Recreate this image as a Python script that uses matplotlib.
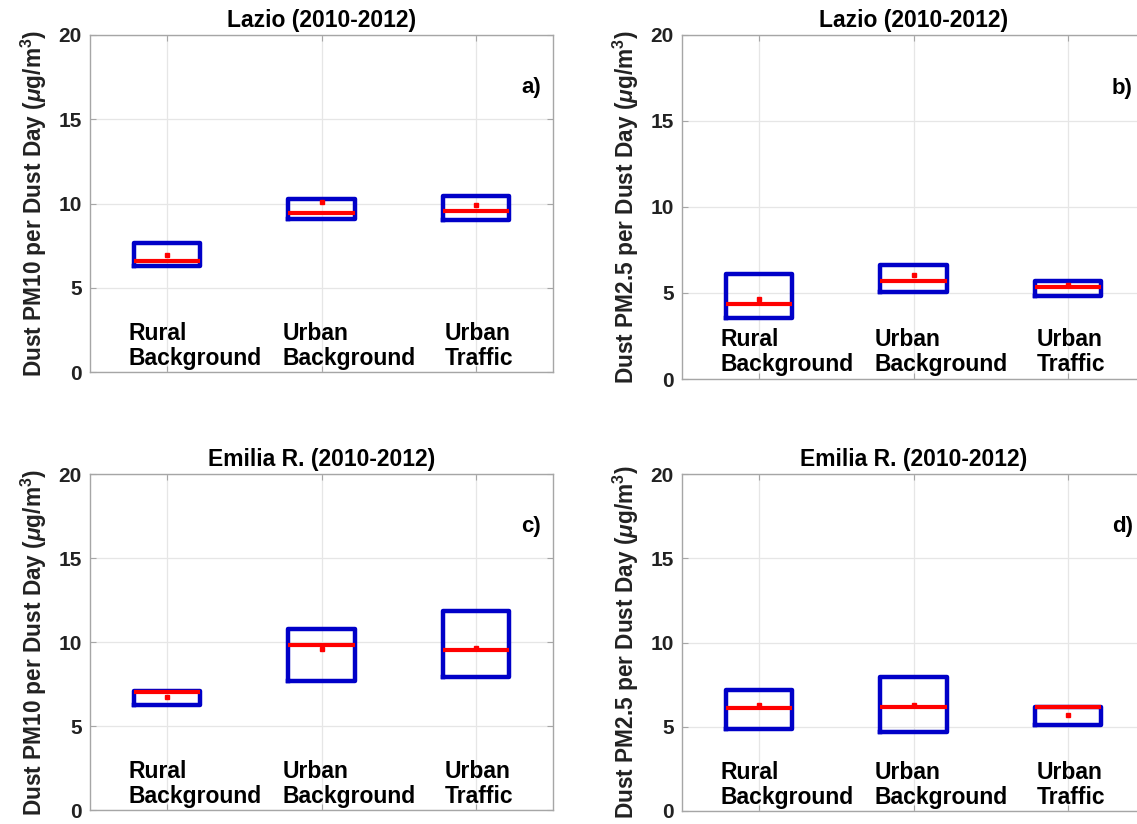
import matplotlib
matplotlib.use('Agg')
import matplotlib.pyplot as plt

plt.rcParams['font.family'] = ['Liberation Sans', 'DejaVu Sans']
plt.rcParams['font.weight'] = 'bold'
plt.rcParams['mathtext.fontset'] = 'custom'
plt.rcParams['mathtext.rm'] = 'Liberation Sans:bold'
plt.rcParams['mathtext.it'] = 'Liberation Sans:italic:bold'
plt.rcParams['mathtext.bf'] = 'Liberation Sans:bold'

# ---- data ----
categories = ['Rural\nBackground', 'Urban\nBackground', 'Urban\nTraffic']
titles = ['Lazio (2010-2012)', 'Lazio (2010-2012)',
          'Emilia R. (2010-2012)', 'Emilia R. (2010-2012)']
panel_tags = ['a)', 'b)', 'c)', 'd)']
ylabels = [r'Dust PM10 per Dust Day ($\mu$g/m$^3$)',
           r'Dust PM2.5 per Dust Day ($\mu$g/m$^3$)',
           r'Dust PM10 per Dust Day ($\mu$g/m$^3$)',
           r'Dust PM2.5 per Dust Day ($\mu$g/m$^3$)']
yticks = [0, 5, 10, 15, 20]

# a) Lazio PM10
a_q1 = [6.32, 9.08, 9.01]
a_med = [6.56, 9.41, 9.57]
a_q3 = [7.64, 10.28, 10.43]
a_mean = [6.92, 10.06, 9.92]
# b) Lazio PM2.5
b_q1 = [3.52, 5.07, 4.84]
b_med = [4.35, 5.71, 5.32]
b_q3 = [6.09, 6.62, 5.71]
b_mean = [4.64, 6.07, 5.45]
# c) Emilia R. PM10
c_q1 = [6.23, 7.65, 7.92]
c_med = [7.03, 9.82, 9.50]
c_q3 = [7.06, 10.77, 11.86]
c_mean = [6.70, 9.58, 9.66]
# d) Emilia R. PM2.5
d_q1 = [4.85, 4.66, 5.09]
d_med = [6.14, 6.18, 6.18]
d_q3 = [7.21, 7.96, 6.18]
d_mean = [6.30, 6.28, 5.69]

panels = [(a_q1, a_med, a_q3, a_mean), (b_q1, b_med, b_q3, b_mean),
          (c_q1, c_med, c_q3, c_mean), (d_q1, d_med, d_q3, d_mean)]

# ---- layout (pixels of a 1137x824 canvas) ----
W, H = 1137, 824
rects_px = [(90, 35, 553, 372), (682, 35, 1145, 379),
            (90, 474, 553, 810), (682, 474, 1145, 811)]
label_dx = [-0.25, -0.255, -0.20]

fig = plt.figure(figsize=(W / 100, H / 100), dpi=100)
blue = '#0000C8'
red = '#FF0000'
spine_c = '#A6A6A6'
text_c = '#000000'

for k, (q1s, meds, q3s, means) in enumerate(panels):
    x0, y0, x1, y1 = rects_px[k]
    ax = fig.add_axes([x0 / W, 1 - y1 / H, (x1 - x0) / W, (y1 - y0) / H])
    stats = []
    for i in range(len(categories)):
        stats.append(dict(q1=q1s[i], med=meds[i], q3=q3s[i], mean=means[i],
                          whislo=q1s[i], whishi=q3s[i], fliers=[]))
    ax.bxp(stats, positions=[1, 2, 3], widths=0.43, showcaps=False,
           showfliers=False, showmeans=True,
           boxprops=dict(color=blue, lw=3.2),
           whiskerprops=dict(color=blue, lw=0),
           medianprops=dict(color=red, lw=3.0, solid_capstyle='butt'),
           meanprops=dict(marker='s', markersize=2.2, markerfacecolor=red,
                          markeredgecolor=red))
    ax.set_xlim(0.5, 3.5)
    ax.set_ylim(0, 20)
    ax.set_yticks(yticks)
    ax.set_yticklabels([str(t) for t in yticks], fontsize=15, fontweight='bold',
                       color='#222222')
    ax.set_xticks([1, 2, 3])
    ax.set_xticklabels([])
    ax.tick_params(direction='in', length=4, width=0.8, color=spine_c,
                   top=True, right=True, pad=6)
    ax.grid(True, color='#E6E6E6', lw=0.9)
    ax.set_axisbelow(True)
    for s in ax.spines.values():
        s.set_color(spine_c)
        s.set_linewidth(1.0)
    ax.set_title(titles[k], fontsize=16.5, fontweight='bold', color=text_c, pad=6)
    ax.set_ylabel(ylabels[k], fontsize=16.3, fontweight='bold', color='#222222',
                  labelpad=7)
    for i, cat in enumerate(categories):
        ax.text(i + 1 + label_dx[i], 1.55, cat, fontsize=16.5, fontweight='bold',
                color=text_c, ha='left', va='center', linespacing=1.1)
    ax.text(3.42, 16.9, panel_tags[k], fontsize=16, fontweight='bold',
            color=text_c, ha='right', va='center')

fig.savefig('out.png', dpi=100)
